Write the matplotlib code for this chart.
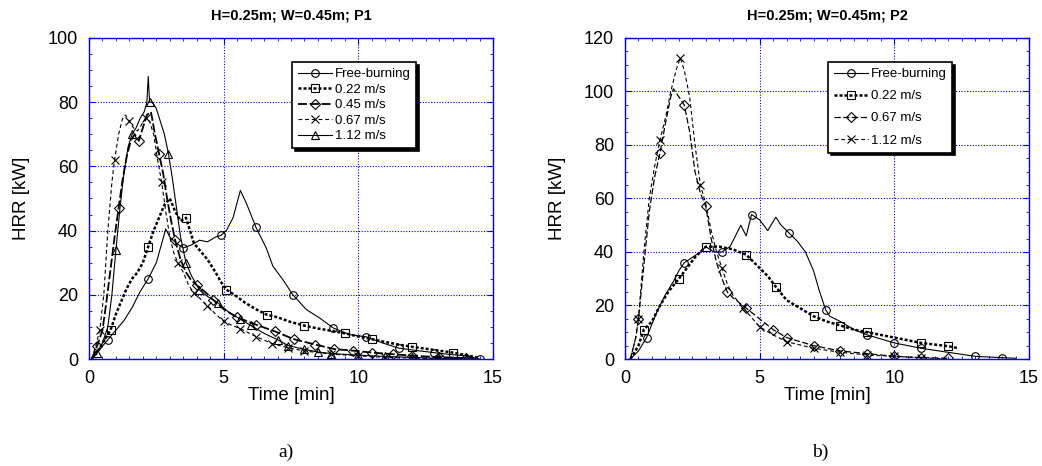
#!/usr/bin/env python3
"""
HRR curves for H=0.25m; W=0.45m, positions P1 and P2.

Two panels, values read off the reference picture.
"""

import numpy as np
import matplotlib
matplotlib.use('Agg')
import matplotlib.pyplot as plt
from matplotlib.ticker import MultipleLocator

plt.rcParams['font.family'] = ['Liberation Sans', 'DejaVu Sans']

# ---- panel a) P1 ----
p1_free_t = [0.1, 0.4, 0.7, 1.0, 1.3, 1.6, 1.9, 2.2, 2.5, 2.7, 2.85, 3.0, 3.25, 3.5, 3.8,
             4.1, 4.4, 4.7, 4.9, 5.1, 5.35, 5.62, 5.84, 6.2, 6.58, 6.83, 7.2, 7.57, 8.07,
             8.56, 9.06, 9.68, 10.3, 10.9, 11.5, 12.2, 12.8, 13.4, 14.0, 14.5]
p1_free_v = [0, 3, 6, 9, 12, 16, 21, 25, 30, 36, 40.5, 38, 36, 34.6, 35.5,
             37, 36.5, 38, 38.5, 40, 44, 52.5, 48.6, 41, 34.6, 28.9, 24.7, 20, 15.4,
             12.8, 9.7, 7.6, 6.9, 5, 3.4, 2.6, 2, 1.4, 1, 0]

p1_022_t = [0.1, 0.3, 0.5, 0.8, 1.0, 1.2, 1.4, 1.6, 1.8, 2.0, 2.2, 2.4, 2.6, 2.8, 3.0,
            3.2, 3.4, 3.6, 3.75, 3.9, 4.1, 4.4, 4.7, 4.9, 5.1, 5.4, 5.8, 6.2, 6.6, 7.0,
            7.5, 8.0, 8.5, 9.0, 9.5, 10.0, 10.5, 11.0, 11.5, 12.0, 12.5, 13.0, 13.5, 14.0, 14.5]
p1_022_v = [0, 2, 5, 9, 14, 18, 22, 25, 27, 30, 35, 40, 44, 48, 50,
            46, 43, 44, 40, 36, 34, 31, 27, 24, 21.6, 20, 17.5, 15.5, 13.8, 13,
            11.5, 10.4, 9.5, 8.8, 8, 7, 6.2, 5.3, 4.5, 3.8, 3.2, 2.6, 2, 1.2, 0.3]

p1_045_t = [0.1, 0.3, 0.5, 0.65, 0.8, 0.95, 1.1, 1.25, 1.4, 1.55, 1.7, 1.85, 2.0, 2.15, 2.3,
            2.45, 2.6, 2.75, 2.9, 3.05, 3.2, 3.4, 3.6, 3.8, 4.0, 4.3, 4.6, 5.0, 5.5, 6.2,
            6.9, 7.6, 8.4, 9.1, 9.8, 10.5, 11.3, 12.0, 13.0, 14.0, 14.5]
p1_045_v = [0, 4, 9, 18, 28, 38, 47, 56, 63, 68, 70, 68, 72, 76, 77,
            70, 64, 58, 50, 43, 37, 31, 27, 24.5, 23, 21, 18.5, 15.5, 13, 10.7,
            8.6, 6.2, 4.5, 3.1, 2.6, 2, 1.5, 1, 0.6, 0.3, 0]

p1_067_t = [0.1, 0.25, 0.4, 0.55, 0.7, 0.85, 0.95, 1.1, 1.25, 1.35, 1.5, 1.65, 1.8, 1.95, 2.1,
            2.25, 2.4, 2.55, 2.7, 2.85, 3.0, 3.15, 3.3, 3.5, 3.7, 3.9, 4.1, 4.4, 4.7, 5.0,
            5.3, 5.6, 6.2, 6.8, 7.4, 8.0, 9.0, 10.0, 11.0, 12.0, 13.0]
p1_067_v = [0, 4, 9, 20, 40, 55, 62, 70, 75, 76, 74, 72, 71, 73, 75,
            74, 70, 62, 55, 46, 38, 33, 30, 27, 23, 20.5, 19, 16.6, 14, 11.7,
            10.5, 9.5, 7, 4.8, 3.5, 2.5, 1.5, 1, 0.5, 0.3, 0]

p1_112_t = [0.1, 0.3, 0.5, 0.7, 0.85, 1.0, 1.15, 1.3, 1.45, 1.6, 1.75, 1.9, 2.05, 2.15, 2.2,
            2.25, 2.35, 2.5, 2.65, 2.8, 2.95, 3.1, 3.25, 3.4, 3.6, 3.8, 4.1, 4.4, 4.8, 5.2,
            5.6, 6.0, 6.5, 7.0, 7.4, 8.0, 8.5, 9.0, 10.0, 11.0, 12.0, 13.0, 14.0]
p1_112_v = [0, 2, 5, 10, 20, 34, 47, 58, 66, 70, 72, 75, 77, 80, 88,
            80, 80, 78, 74, 70, 64, 56, 47, 38, 30, 26, 21.5, 19.5, 17.4, 14.5,
            12.5, 10.5, 8, 6, 4.2, 3, 2.2, 1.7, 1.2, 0.8, 0.5, 0.2, 0.1]

# ---- panel b) P2 ----
p2_free_t = [0.2, 0.5, 0.8, 1.0, 1.2, 1.5, 1.8, 2.0, 2.2, 2.5, 2.8, 3.0, 3.3, 3.6, 3.9,
             4.1, 4.3, 4.5, 4.7, 5.0, 5.3, 5.6, 5.8, 6.1, 6.4, 6.7, 7.0, 7.2, 7.45, 7.6,
             8.0, 8.5, 9.0, 10.0, 11.0, 12.0, 13.0, 14.0, 14.5]
p2_free_v = [0, 3, 8, 13, 18, 24, 29, 33, 36, 38, 40, 42, 40, 40, 42,
             46, 50, 46, 54, 52, 48, 53, 50, 47, 44, 40, 33, 26, 18.4, 16,
             14, 11, 9, 6, 4, 2.5, 1, 0.5, 0.3]

p2_022_t = [0.2, 0.5, 0.7, 1.0, 1.3, 1.6, 2.0, 2.3, 2.6, 3.0, 3.5, 4.0, 4.5, 5.0, 5.3,
            5.6, 6.0, 6.5, 7.0, 7.5, 8.0, 8.5, 9.0, 10.0, 11.0, 12.0, 12.4]
p2_022_v = [0, 5, 11, 14, 20, 25, 30, 34, 38, 42, 42, 41, 39, 34, 31,
            27, 22, 19, 16, 14, 12.5, 11, 10, 8, 6, 4.8, 4]

p2_067_t = [0.2, 0.4, 0.5, 0.7, 0.9, 1.1, 1.3, 1.5, 1.7, 1.8, 2.0, 2.2, 2.4, 2.6, 2.8,
            3.0, 3.2, 3.4, 3.6, 3.8, 4.0, 4.5, 5.0, 5.5, 6.0, 7.0, 8.0, 9.0, 10.0, 11.0, 12.0]
p2_067_v = [0, 8, 15, 35, 55, 68, 77, 88, 98, 101, 98, 95, 85, 70, 62,
            57, 45, 36, 30, 25, 23, 19, 15, 11, 8, 5, 3, 2, 1, 0.5, 0.3]

p2_112_t = [0.2, 0.4, 0.5, 0.7, 0.9, 1.1, 1.3, 1.5, 1.7, 1.9, 2.05, 2.2, 2.4, 2.6, 2.8,
            3.0, 3.2, 3.4, 3.6, 3.8, 4.0, 4.4, 5.0, 5.5, 6.0, 7.0, 8.0, 9.0, 10.0, 11.0, 12.0]
p2_112_v = [0, 8, 15, 40, 60, 72, 82, 90, 100, 108, 112.5, 108, 98, 80, 65,
            58, 48, 40, 34, 28, 24, 19, 12, 9, 6.5, 4, 2.5, 1.5, 1, 0.5, 0]

# marker start time and spacing (min) for each curve
marks_p1 = {'free': (0.75, 1.37), '022': (0.79, 1.42), '045': (0.37, 0.73),
            '067': (0.37, 0.58), '112': (0.37, 0.64)}
marks_p2 = {'free': (0.79, 1.33), '022': (0.69, 1.23), '067': (0.51, 0.81),
            '112': (0.48, 0.78)}

GRID_BLUE = '#0000ee'


def mark_indices(t, start, step):
    """Indices of the points closest to regular marker times."""
    t = np.asarray(t)
    idx = [int(np.argmin(np.abs(t - m))) for m in np.arange(start, t.max(), step)]
    return sorted(set(idx))


def style_axes(ax, ymax):
    """Blue frame, dotted blue grid, inward ticks on all sides."""
    ax.set_xlim(0, 15)
    ax.set_ylim(0, ymax)
    ax.xaxis.set_major_locator(MultipleLocator(5))
    ax.xaxis.set_minor_locator(MultipleLocator(0.5))
    ax.yaxis.set_major_locator(MultipleLocator(20))
    ax.yaxis.set_minor_locator(MultipleLocator(5))
    for s in ax.spines.values():
        s.set_color(GRID_BLUE)
        s.set_linewidth(1.0)
    ax.grid(True, which='major', color=GRID_BLUE, linestyle=(0, (1, 1.5)), linewidth=0.8)
    ax.tick_params(which='both', direction='in', top=True, right=True,
                   color=GRID_BLUE, labelsize=13, pad=8)
    ax.tick_params(which='major', length=4)
    ax.tick_params(which='minor', length=2.5)
    ax.set_xlabel('Time [min]', fontsize=13.5)
    ax.set_ylabel('HRR [kW]', fontsize=13.5)
    ax.xaxis.set_label_coords(0.5, -0.088)
    ax.yaxis.set_label_coords(-0.147, 0.5)


def draw_curve(ax, t, v, marks, label, marker, **kw):
    ax.plot(t, v, color='black', marker=marker, markersize=5.5, mfc='none',
            mec='black', mew=0.8, markevery=mark_indices(t, *marks), label=label, **kw)


def add_legend(ax, spacing):
    leg = ax.legend(loc='upper left', bbox_to_anchor=(0.502, 0.925), fontsize=9.5,
                    frameon=True, fancybox=False, shadow={'color': 'black', 'alpha': 1.0},
                    handlelength=2.6, handletextpad=0.2, borderpad=0.45,
                    labelspacing=spacing, borderaxespad=0)
    frame = leg.get_frame()
    frame.set_edgecolor('black')
    frame.set_linewidth(1.2)
    frame.set_alpha(1)
    leg.set_zorder(5)


def main():
    fig = plt.figure(figsize=(10.42, 4.66), dpi=100)
    ax1 = fig.add_axes([0.0854, 0.2296, 0.3877, 0.689])
    ax2 = fig.add_axes([0.5998, 0.2296, 0.3877, 0.689])

    thin = dict(linewidth=0.8)
    dotted = dict(linewidth=1.8, linestyle=(0, (1.2, 0.8)))
    thick_dash = dict(linewidth=1.3, linestyle=(0, (5, 1.5)))
    dashed = dict(linewidth=0.8, linestyle=(0, (3.5, 2.5)))
    med_dash = dict(linewidth=0.9, linestyle=(0, (5, 2)))

    # panel a)
    draw_curve(ax1, p1_free_t, p1_free_v, marks_p1['free'], 'Free-burning', 'o', **thin)
    draw_curve(ax1, p1_022_t, p1_022_v, marks_p1['022'], '0.22 m/s', 's', **dotted)
    draw_curve(ax1, p1_045_t, p1_045_v, marks_p1['045'], '0.45 m/s', 'D', **thick_dash)
    draw_curve(ax1, p1_067_t, p1_067_v, marks_p1['067'], '0.67 m/s', 'x', **dashed)
    draw_curve(ax1, p1_112_t, p1_112_v, marks_p1['112'], '1.12 m/s', '^', **thin)
    style_axes(ax1, 100)
    ax1.set_title('H=0.25m; W=0.45m; P1', fontsize=10.5, fontweight='bold', pad=13)
    add_legend(ax1, 0.25)

    # panel b)
    draw_curve(ax2, p2_free_t, p2_free_v, marks_p2['free'], 'Free-burning', 'o', **thin)
    draw_curve(ax2, p2_022_t, p2_022_v, marks_p2['022'], '0.22 m/s', 's', **dotted)
    draw_curve(ax2, p2_067_t, p2_067_v, marks_p2['067'], '0.67 m/s', 'D', **med_dash)
    draw_curve(ax2, p2_112_t, p2_112_v, marks_p2['112'], '1.12 m/s', 'x', **dashed)
    style_axes(ax2, 120)
    ax2.set_title('H=0.25m; W=0.45m; P2', fontsize=10.5, fontweight='bold', pad=13)
    add_legend(ax2, 0.75)

    fig.text(0.2745, 0.02, 'a)', family='Liberation Serif', fontsize=14, ha='center')
    fig.text(0.787, 0.02, 'b)', family='Liberation Serif', fontsize=14, ha='center')

    fig.savefig('out.png', dpi=100)
    plt.close(fig)


if __name__ == "__main__":
    main()
